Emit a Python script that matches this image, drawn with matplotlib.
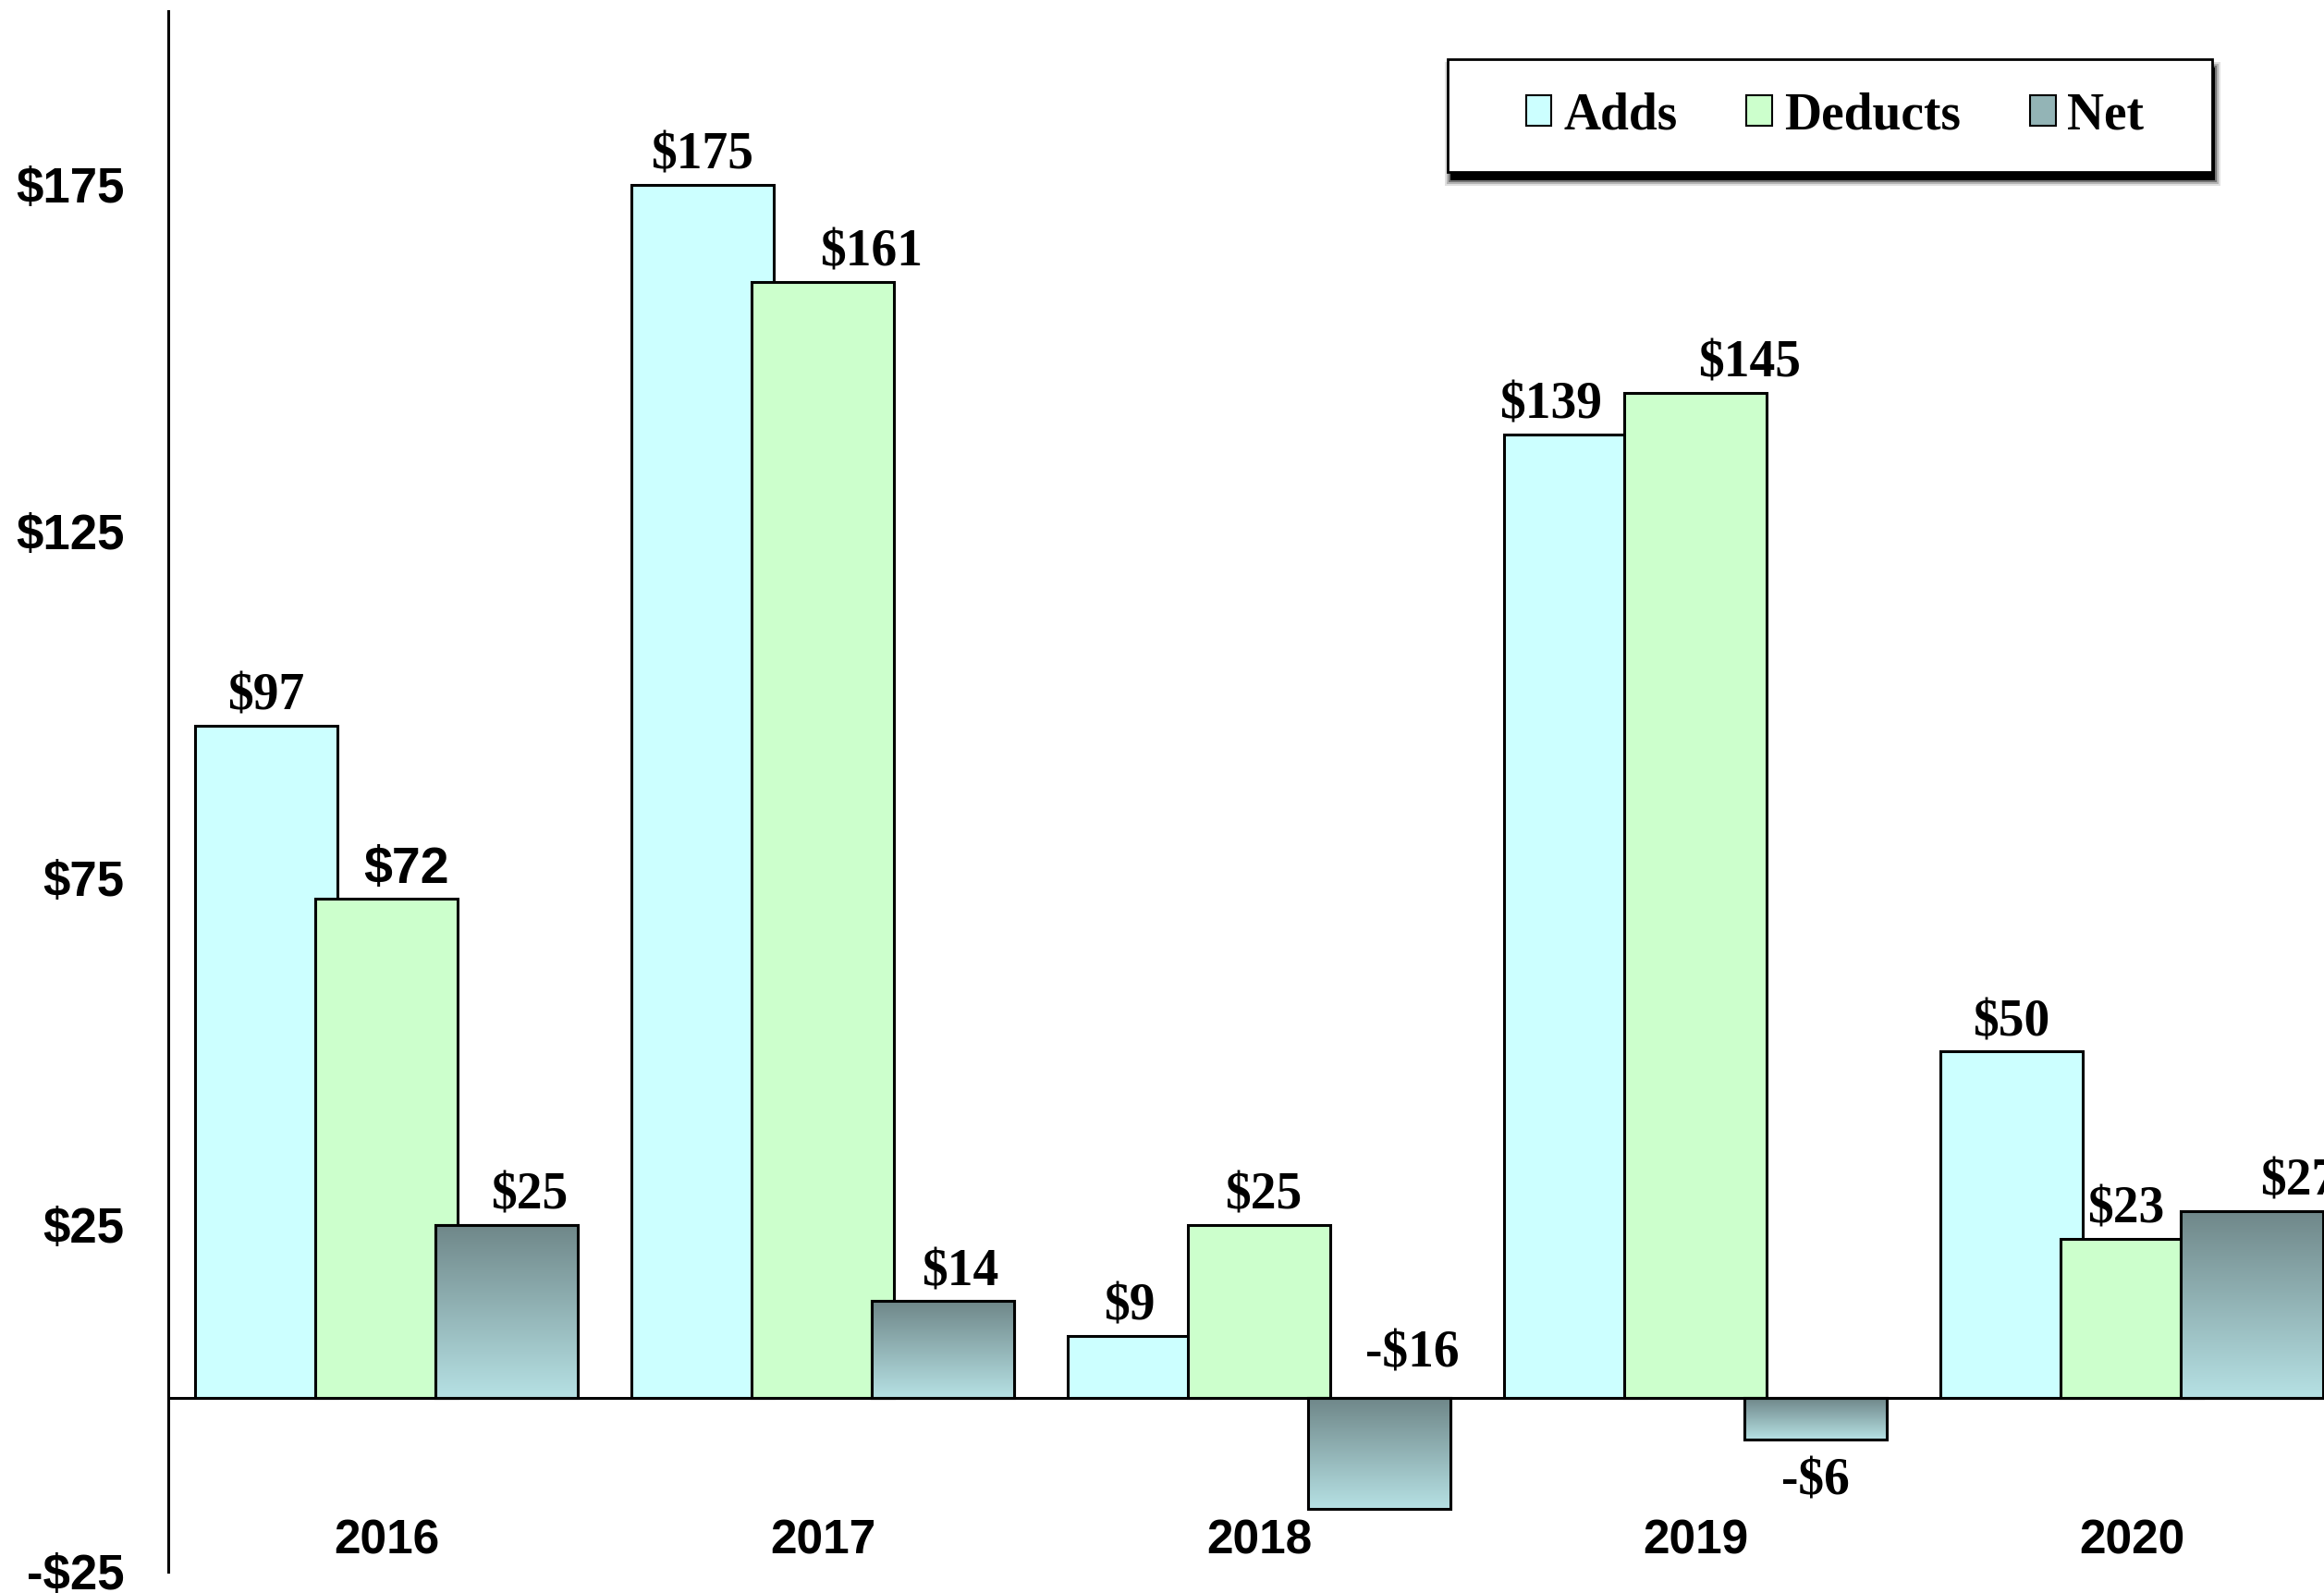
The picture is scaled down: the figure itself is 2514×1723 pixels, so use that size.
import numpy as np
import matplotlib.pyplot as plt
from matplotlib.patches import Rectangle, Patch
from matplotlib.colors import LinearSegmentedColormap
from matplotlib.ticker import FuncFormatter

# data
years = ["2016", "2017", "2018", "2019", "2020"]
adds = [97, 175, 9, 139, 50]
deducts = [72, 161, 25, 145, 23]
net = [25, 14, -16, -6, 27]
series_names = ["Adds", "Deducts", "Net"]
y_ticks = [-25, 25, 75, 125, 175]

# layout / style
W, H, DPI = 2514, 1723, 100
BAR_W = 0.327
STEP = 0.276
ADDS_COLOR = "#ccffff"
DEDUCTS_COLOR = "#ccffcc"
NET_TOP = "#6f8789"
NET_BOTTOM = "#b6e1e4"
NET_MID = "#93b4b6"
EDGE_LW = 2.2
SERIF = ["Liberation Serif", "DejaVu Serif"]
SANS = ["Liberation Sans", "DejaVu Sans"]
# small sideways nudges of the value labels (category units)
label_nudge = {
    "Adds": [0, 0, -0.02, -0.055, 0],
    "Deducts": [0.045, 0.112, 0.01, 0.124, -0.014],
    "Net": [0.052, 0.04, 0.075, 0.0, 0.107],
}
sans_labels = {("Deducts", 0)}

fig = plt.figure(figsize=(W / DPI, H / DPI), dpi=DPI)
ax = fig.add_axes([182 / W, 1 - 1699.5 / H, 5 * 472 / W, 1687.5 / H])

x = np.arange(len(years))
ax.bar(x - STEP, adds, BAR_W, color=ADDS_COLOR, edgecolor="black",
       linewidth=EDGE_LW, zorder=2)
ax.bar(x, deducts, BAR_W, color=DEDUCTS_COLOR, edgecolor="black",
       linewidth=EDGE_LW, zorder=3)
net_bars = ax.bar(x + STEP, net, BAR_W, color=NET_MID, edgecolor="black",
                  linewidth=EDGE_LW, zorder=4)

# vertical gradient on the net bars: dark on top, light at the bottom
cmap = LinearSegmentedColormap.from_list("net", [NET_TOP, NET_BOTTOM])
grad = np.linspace(0, 1, 256).reshape(-1, 1)
for p in net_bars:
    x0, w = p.get_x(), p.get_width()
    y0, h = p.get_y(), p.get_height()
    lo, hi = min(y0, y0 + h), max(y0, y0 + h)
    ax.imshow(grad, extent=(x0, x0 + w, lo, hi), origin="upper",
              aspect="auto", cmap=cmap, zorder=4.1)
ax.bar(x + STEP, net, BAR_W, facecolor="none", edgecolor="black",
       linewidth=EDGE_LW, zorder=4.2)

ax.axhline(0, color="black", lw=EDGE_LW, zorder=6)

ax.set_xlim(-0.5, len(years) - 0.5)
ax.set_ylim(-25, 200)
ax.set_aspect("auto")

for s in ["top", "right", "bottom"]:
    ax.spines[s].set_visible(False)
ax.spines["left"].set_linewidth(EDGE_LW)

ax.set_xticks([])
ax.set_yticks(y_ticks)
ax.yaxis.set_major_formatter(FuncFormatter(
    lambda v, p: f"-${-int(v)}" if v < 0 else f"${int(v)}"))
ax.tick_params(axis="y", length=0, pad=34)
for lab in ax.get_yticklabels():
    lab.set_fontfamily(SANS)
    lab.set_fontweight("bold")
    lab.set_fontsize(38)

for i, yr in enumerate(years):
    ax.text(i, -20.7, yr, ha="center", va="center", fontsize=37,
            fontweight="bold", family=SANS)

# value labels
offsets = {"Adds": -STEP, "Deducts": 0, "Net": STEP}
for name, vals in zip(series_names, [adds, deducts, net]):
    for i, v in enumerate(vals):
        xc = i + offsets[name] + label_nudge[name][i]
        txt = f"-${-v}" if v < 0 else f"${v}"
        fam = SANS if (name, i) in sans_labels else SERIF
        if v >= 0:
            y, dy, va = v, 12, "baseline"
        elif v < -10:
            y, dy, va = 0, 24, "baseline"
        else:
            y, dy, va = v, -14, "top"
        ax.annotate(txt, (xc, y), xytext=(0, dy), textcoords="offset points",
                    ha="center", va=va, fontsize=40, fontweight="bold",
                    family=fam, zorder=7)

# legend box with a soft shadow underneath (pixel units, top-left origin)
bx, by, bw, bh = 1566, 64, 827, 122
sx, sy = 3, 9


def fig_rect(px, py, pw, ph, **kw):
    return Rectangle((px / W, 1 - (py + ph) / H), pw / W, ph / H,
                     transform=fig.transFigure, **kw)


for grow, a in [(6, 0.12), (4, 0.2), (2, 0.35), (0, 1.0)]:
    fig.add_artist(fig_rect(bx + sx - grow, by + sy - grow, bw + 2 * grow,
                            bh + 2 * grow, facecolor="black",
                            edgecolor="none", alpha=a, zorder=1.9))
fig.add_artist(fig_rect(bx, by, bw, bh, facecolor="white",
                        edgecolor="black", linewidth=2, zorder=2))

handles = [Patch(facecolor=ADDS_COLOR, edgecolor="black", linewidth=1.5),
           Patch(facecolor=DEDUCTS_COLOR, edgecolor="black", linewidth=1.5),
           Patch(facecolor=NET_MID, edgecolor="black", linewidth=1.5)]
fig.legend(handles, series_names, loc="center",
           bbox_to_anchor=(1985 / W, 1 - 125 / H), ncol=3, frameon=False,
           handlelength=0.5, handleheight=0.55, handletextpad=0.23,
           columnspacing=1.35,
           prop={"family": SERIF, "weight": "bold", "size": 40})

fig.savefig("out.png", dpi=DPI)
